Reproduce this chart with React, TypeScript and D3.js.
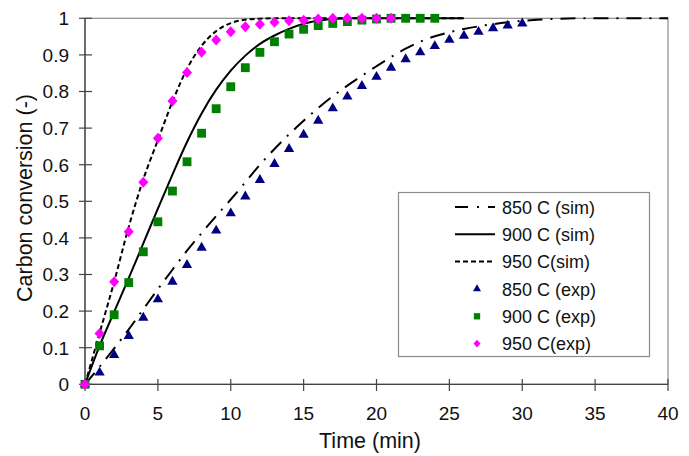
import React from "react";
import * as d3 from "d3";

const W = 689;
const H = 456;

const xTicks = [0, 5, 10, 15, 20, 25, 30, 35, 40];
const yTicks = [0, 0.1, 0.2, 0.3, 0.4, 0.5, 0.6, 0.7, 0.8, 0.9, 1];

// Simulated curves (time, conversion)
const sim850T = [0, 1, 2, 3, 4, 5, 6, 7, 8, 9, 10, 11, 12, 13, 14, 15, 16, 17, 18, 19, 20, 21, 22, 23, 24, 25, 26, 27, 28, 29, 30, 31, 32, 34, 40];
const sim850Y = [0, 0.048, 0.098, 0.15, 0.205, 0.26, 0.313, 0.365, 0.413, 0.46, 0.505, 0.552, 0.6, 0.643, 0.683, 0.72, 0.755, 0.787, 0.816, 0.843, 0.869, 0.894, 0.917, 0.936, 0.951, 0.962, 0.971, 0.978, 0.984, 0.989, 0.993, 0.996, 0.998, 1, 1];

const sim900T = [0, 1, 2, 3, 4, 5, 6, 7, 8, 9, 10, 11, 12, 13, 14, 15, 16, 17, 18, 26];
const sim900Y = [0, 0.105, 0.198, 0.29, 0.385, 0.48, 0.573, 0.662, 0.74, 0.805, 0.857, 0.898, 0.93, 0.953, 0.971, 0.985, 0.994, 0.998, 1, 1];

const sim950T = [0, 1, 2, 3, 4, 5, 6, 7, 8, 9, 10, 11, 12, 13, 26];
const sim950Y = [0, 0.14, 0.28, 0.43, 0.56, 0.667, 0.772, 0.862, 0.925, 0.965, 0.987, 0.996, 0.999, 1, 1];

// Experimental points
const exp850T = [0, 1, 2, 3, 4, 5, 6, 7, 8, 9, 10, 11, 12, 13, 14, 15, 16, 17, 18, 19, 20, 21, 22, 23, 24, 25, 26, 27, 28, 29, 30];
const exp850Y = [0, 0.032, 0.08, 0.132, 0.182, 0.232, 0.28, 0.326, 0.373, 0.42, 0.467, 0.513, 0.558, 0.602, 0.643, 0.682, 0.72, 0.754, 0.786, 0.815, 0.84, 0.865, 0.888, 0.907, 0.924, 0.941, 0.952, 0.963, 0.973, 0.98, 0.986];

const exp900T = [0, 1, 2, 3, 4, 5, 6, 7, 8, 9, 10, 11, 12, 13, 14, 15, 16, 17, 18, 19, 20, 21, 22, 23, 24];
const exp900Y = [0, 0.105, 0.19, 0.278, 0.362, 0.444, 0.528, 0.608, 0.686, 0.753, 0.813, 0.865, 0.907, 0.936, 0.957, 0.97, 0.98, 0.986, 0.991, 0.995, 0.998, 1, 1, 1, 1];

const exp950T = [0, 1, 2, 3, 4, 5, 6, 7, 8, 9, 10, 11, 12, 13, 14, 15, 16, 17, 18, 19, 20, 21];
const exp950Y = [0, 0.139, 0.28, 0.417, 0.552, 0.672, 0.774, 0.852, 0.907, 0.941, 0.963, 0.977, 0.984, 0.989, 0.993, 0.995, 0.998, 1, 1, 1, 1, 1];

const legendLabels = ["850 C (sim)", "900 C (sim)", "950 C(sim)", "850 C (exp)", "900 C (exp)", "950 C(exp)"];

const NAVY = "#000080";
const GREEN = "#008000";
const MAGENTA = "#FF00FF";

const FONT = "Liberation Sans, Arial, sans-serif";

export default function App() {
  const x = d3.scaleLinear().domain([0, 40]).range([85, 668]);
  const y = d3.scaleLinear().domain([0, 1]).range([384.3, 18.3]);

  const line = d3
    .line<[number, number]>()
    .x((d) => x(d[0]))
    .y((d) => y(d[1]))
    .curve(d3.curveMonotoneX);

  const zip = (a: number[], b: number[]) => a.map((t, i) => [t, b[i]] as [number, number]);

  const tri = d3.symbol().type(d3.symbolTriangle).size(46)();
  const sq = d3.symbol().type(d3.symbolSquare).size(78)();
  const diamond = (s: number) => `M0,${-s * 1.1}L${s},0L0,${s * 1.1}L${-s},0Z`;
  const triS = d3.symbol().type(d3.symbolTriangle).size(28)();
  const sqS = d3.symbol().type(d3.symbolSquare).size(40)();

  const sims = [
    { d: zip(sim850T, sim850Y), dash: "15,8,2,8" },
    { d: zip(sim900T, sim900Y), dash: "" },
    { d: zip(sim950T, sim950Y), dash: "5,3" },
  ];

  const legX0 = 455;
  const legX1 = 495;
  const legMx = 477;
  const legTx = 502;
  const legRows = [207, 234.3, 261.6, 289, 316.3, 343.6];

  return (
    <svg
      width={W}
      height={H}
      style={{ position: "absolute", left: 0, top: 0, background: "#fff" }}
      fontFamily={FONT}
    >
      <rect x={0} y={0} width={W} height={H} fill="#fff" />
      {/* plot border */}
      <rect x={85} y={18.3} width={583} height={366} fill="none" stroke="#8a8a8a" strokeWidth={1.2} />
      {/* axes */}
      <line x1={85} x2={85} y1={18.3} y2={384.3} stroke="#444" strokeWidth={1.3} />
      <line x1={85} x2={668} y1={384.3} y2={384.3} stroke="#444" strokeWidth={1.3} />
      {yTicks.map((t) => (
        <g key={"y" + t}>
          <line x1={79} x2={92} y1={y(t)} y2={y(t)} stroke="#444" strokeWidth={1.2} />
          <text x={69} y={y(t) + 6.8} textAnchor="end" fontSize={19} fill="#111">
            {t === 0 || t === 1 ? String(t) : t.toFixed(1)}
          </text>
        </g>
      ))}
      {xTicks.map((t) => (
        <g key={"x" + t}>
          <line x1={x(t)} x2={x(t)} y1={379} y2={391} stroke="#444" strokeWidth={1.2} />
          <text x={x(t)} y={420} textAnchor="middle" fontSize={19} fill="#111">
            {t}
          </text>
        </g>
      ))}
      <text x={370} y={448} textAnchor="middle" fontSize={21.5} fill="#111">
        Time (min)
      </text>
      <text
        transform={`translate(32,198) rotate(-90)`}
        textAnchor="middle"
        fontSize={21.5}
        fill="#111"
      >
        Carbon conversion (-)
      </text>

      {/* simulated curves */}
      {sims.map((s, i) => (
        <path
          key={"s" + i}
          d={line(s.d) || ""}
          fill="none"
          stroke="#000"
          strokeWidth={2}
          strokeDasharray={s.dash || undefined}
        />
      ))}

      {/* experimental markers */}
      {exp850T.map((t, i) => (
        <path key={"a" + i} d={tri || ""} transform={`translate(${x(t)},${y(exp850Y[i])})`} fill={NAVY} />
      ))}
      {exp900T.map((t, i) => (
        <path key={"b" + i} d={sq || ""} transform={`translate(${x(t)},${y(exp900Y[i])})`} fill={GREEN} />
      ))}
      {exp950T.map((t, i) => (
        <path key={"c" + i} d={diamond(5)} transform={`translate(${x(t)},${y(exp950Y[i])})`} fill={MAGENTA} />
      ))}

      {/* legend */}
      <rect x={398.5} y={192.5} width={251} height={164} fill="#fff" stroke="#8a8a8a" strokeWidth={1.2} />
      <line x1={legX0} x2={legX1} y1={legRows[0]} y2={legRows[0]} stroke="#000" strokeWidth={2} strokeDasharray="13,9,2,9" />
      <line x1={legX0} x2={legX1} y1={legRows[1]} y2={legRows[1]} stroke="#000" strokeWidth={2} />
      <line x1={legX0} x2={legX1} y1={legRows[2]} y2={legRows[2]} stroke="#000" strokeWidth={2} strokeDasharray="5,3" />
      <path d={triS || ""} transform={`translate(${legMx},${legRows[3]})`} fill={NAVY} />
      <path d={sqS || ""} transform={`translate(${legMx},${legRows[4]})`} fill={GREEN} />
      <path d={diamond(3.5)} transform={`translate(${legMx},${legRows[5]})`} fill={MAGENTA} />
      {legendLabels.map((l, i) => (
        <text key={"l" + i} x={legTx} y={legRows[i] + 6.5} fontSize={18} fill="#111">
          {l}
        </text>
      ))}
    </svg>
  );
}
